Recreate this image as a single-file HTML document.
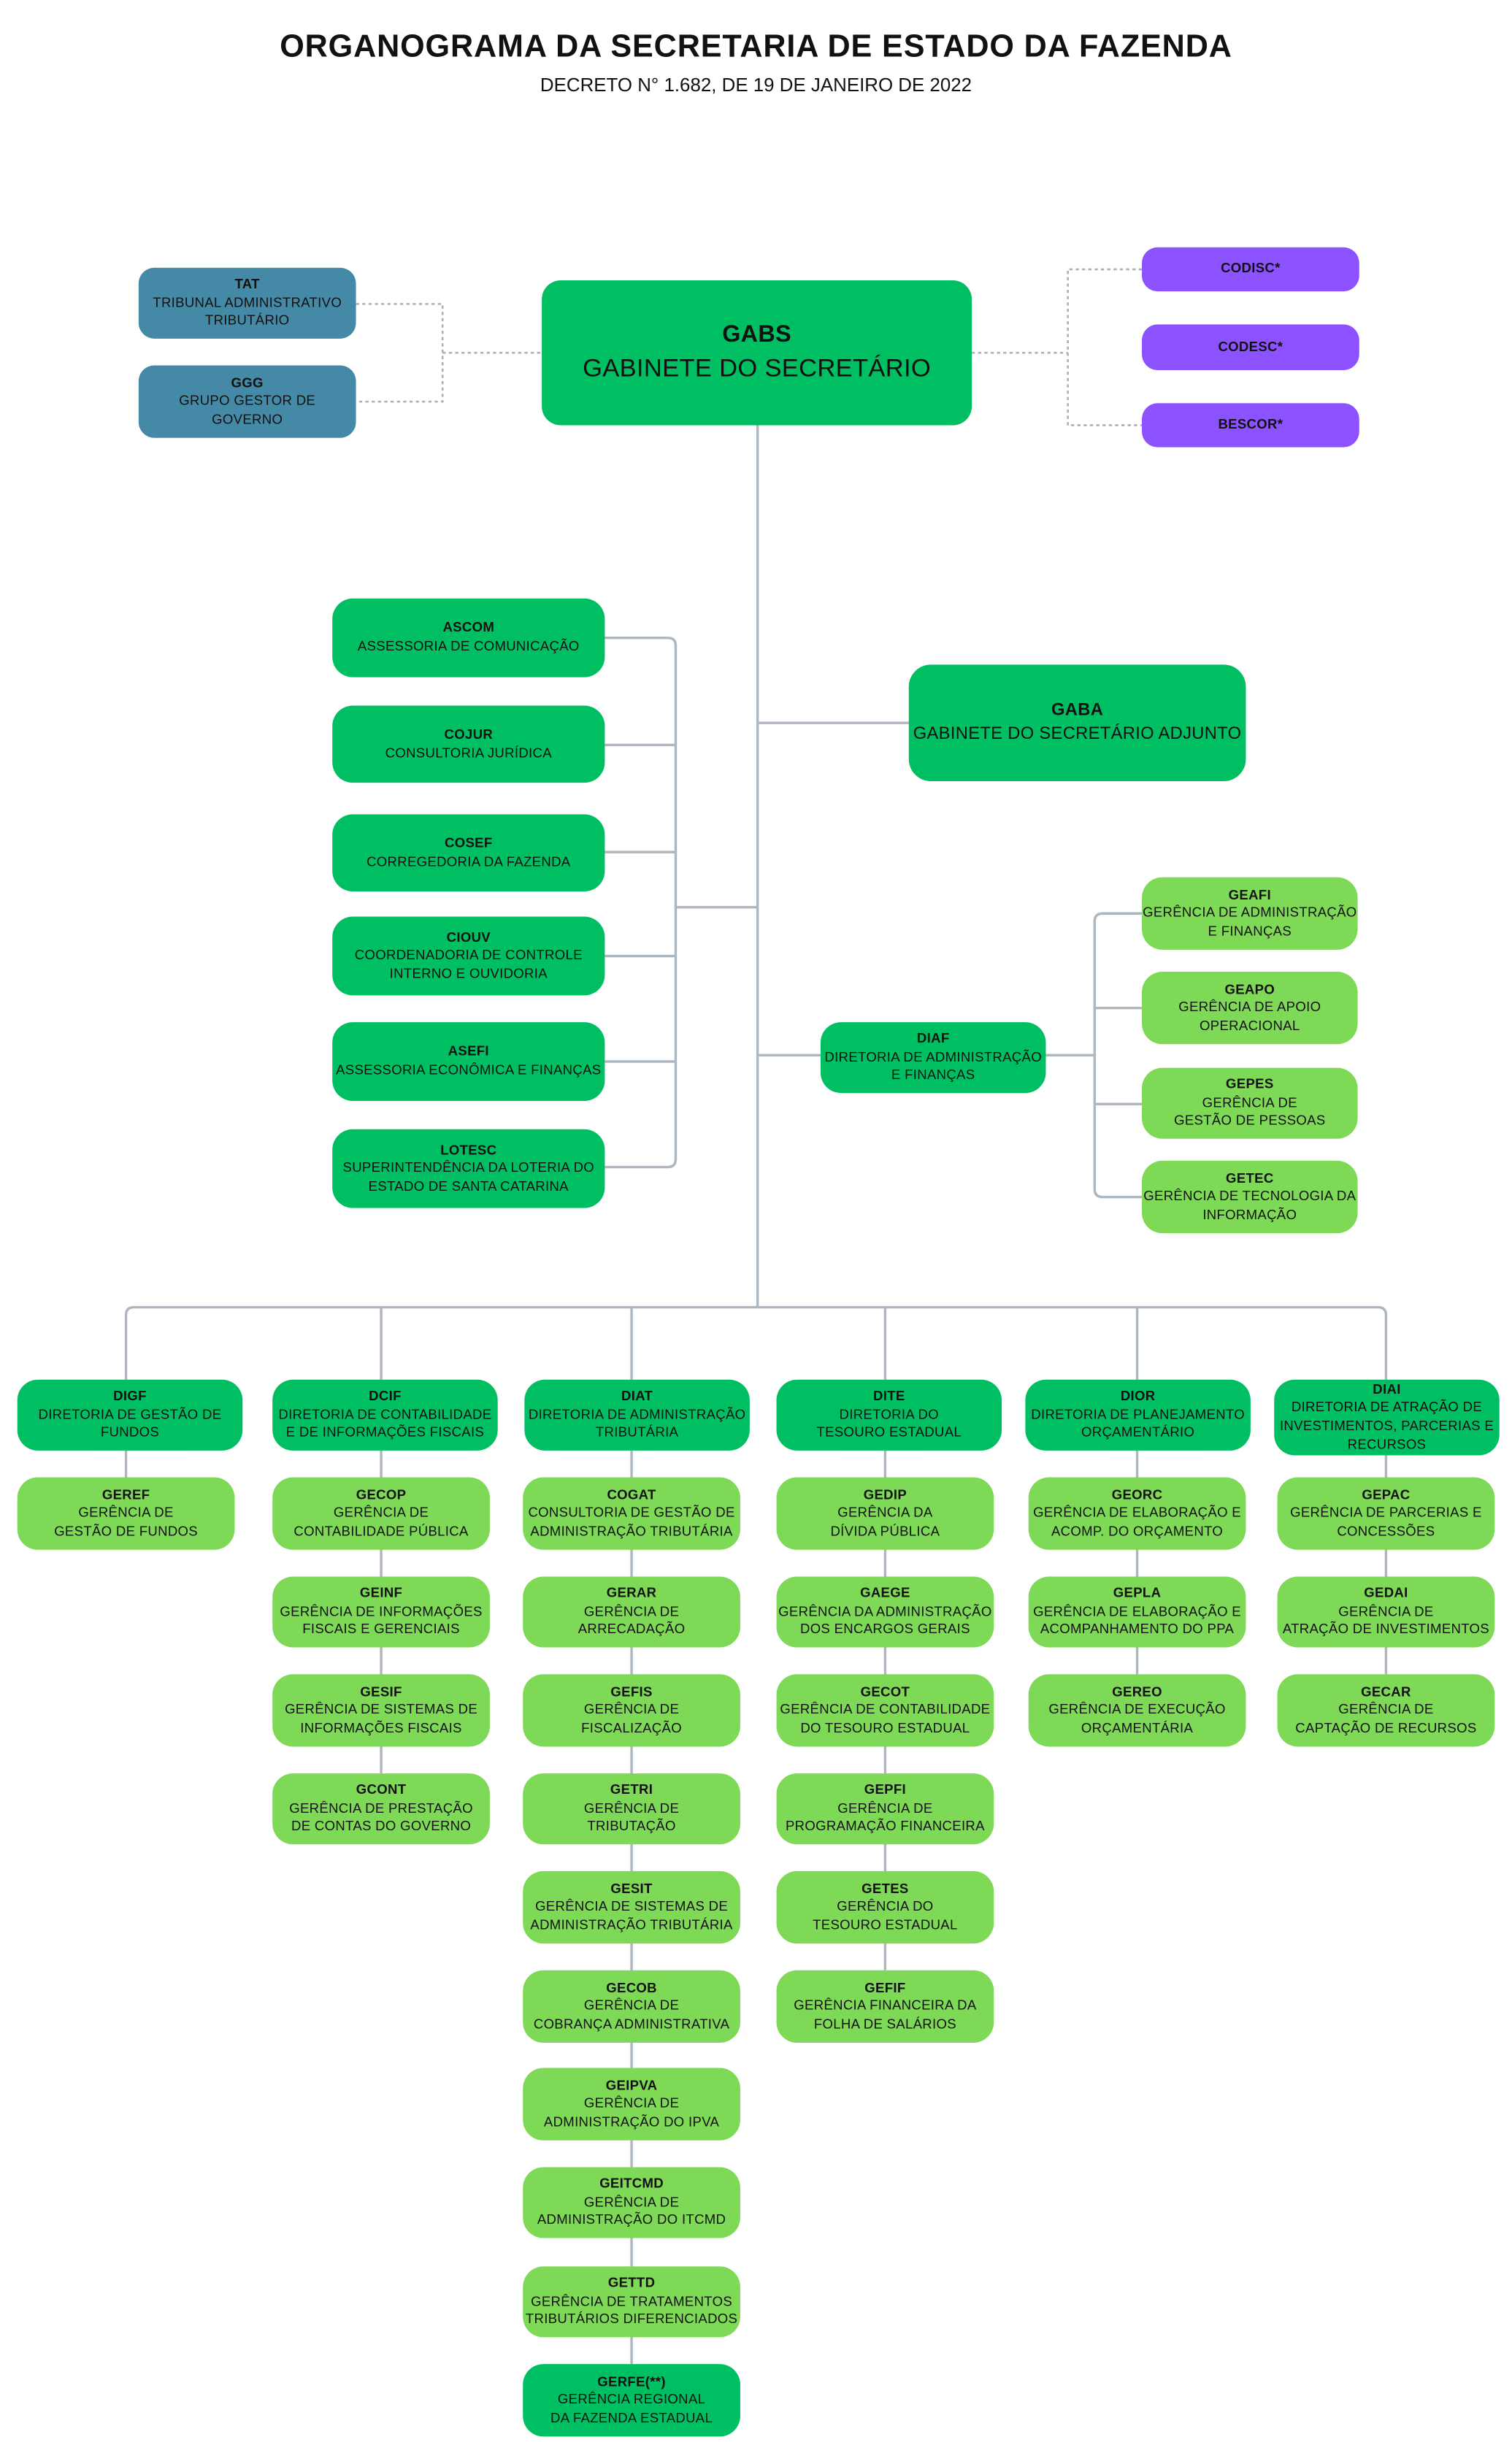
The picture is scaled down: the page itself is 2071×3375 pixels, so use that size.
<!DOCTYPE html>
<html><head><meta charset="utf-8">
<style>
html,body{margin:0;padding:0;background:#fff;}
body{width:2071px;height:3375px;overflow:hidden;position:relative;}
#s{position:absolute;left:0;top:0;width:960px;height:1564px;transform:scale(2.1573);transform-origin:0 0;font-family:"Liberation Sans",sans-serif;color:#111;}
.b{position:absolute;display:flex;flex-direction:column;justify-content:center;align-items:center;text-align:center;border-radius:13px;font-size:8.6px;line-height:11.6px;letter-spacing:0.15px;box-sizing:border-box;padding:0 1px;white-space:nowrap;}
.b b{font-size:8.6px;}
.g{background:#00BF63;}
.l{background:#7ED957;}
.t{background:#4489A6;border-radius:10px;}
.p{background:#8C52FF;border-radius:10px;}
svg{position:absolute;left:0;top:0;}
</style></head><body><div id="s">
<svg width="960" height="1564" fill="none">
<g stroke="#aeb6bf" stroke-width="1.6">
<line x1="481" y1="270" x2="481" y2="830"/>
<path d="M384 405 H424 Q429 405 429 410 V736 Q429 741 424 741 H384"/>
<line x1="384" y1="473" x2="429" y2="473"/>
<line x1="384" y1="541" x2="429" y2="541"/>
<line x1="384" y1="607" x2="429" y2="607"/>
<line x1="384" y1="674" x2="429" y2="674"/>
<line x1="429" y1="576" x2="481" y2="576"/>
<line x1="481" y1="459" x2="577" y2="459"/>
<line x1="481" y1="670" x2="521" y2="670"/>
<line x1="664" y1="670" x2="695" y2="670"/>
<path d="M725 580 H700 Q695 580 695 585 V755 Q695 760 700 760 H725"/>
<line x1="695" y1="640" x2="725" y2="640"/>
<line x1="695" y1="701" x2="725" y2="701"/>
<path d="M80 876 V835 Q80 830 85 830 H875 Q880 830 880 835 V876"/>
<line x1="242" y1="830" x2="242" y2="876"/>
<line x1="401" y1="830" x2="401" y2="876"/>
<line x1="562" y1="830" x2="562" y2="876"/>
<line x1="722" y1="830" x2="722" y2="876"/>
<line x1="80" y1="921" x2="80" y2="938"/>
<line x1="242" y1="921" x2="242" y2="1126"/>
<line x1="401" y1="921" x2="401" y2="1501"/>
<line x1="562" y1="921" x2="562" y2="1251"/>
<line x1="722" y1="921" x2="722" y2="1063"/>
<line x1="880" y1="924" x2="880" y2="1063"/>
</g>
<g stroke="#a8b0b8" stroke-width="1.2" stroke-dasharray="2 2">
<path d="M226 193 H281 V255 H226"/>
<line x1="281" y1="224" x2="344" y2="224"/>
<line x1="617" y1="224" x2="678" y2="224"/>
<path d="M725 171 H678 V270 H725"/>
</g>
</svg>

<div style="position:absolute;left:0;width:960px;top:19px;text-align:center;font-weight:bold;font-size:20px;letter-spacing:0.4px;">ORGANOGRAMA DA SECRETARIA DE ESTADO DA FAZENDA</div>
<div style="position:absolute;left:0;width:960px;top:47px;text-align:center;font-size:12px;">DECRETO N° 1.682, DE 19 DE JANEIRO DE 2022</div>

<div class="b g" style="left:344px;top:178px;width:273px;height:92px;border-radius:12px;font-size:16px;line-height:22px;"><b style="font-size:15px;">GABS</b>GABINETE DO SECRETÁRIO</div>
<div class="b t" style="left:88px;top:170px;width:138px;height:45px;"><b>TAT</b>TRIBUNAL ADMINISTRATIVO<br>TRIBUTÁRIO</div>
<div class="b t" style="left:88px;top:232px;width:138px;height:46px;"><b>GGG</b>GRUPO GESTOR DE<br>GOVERNO</div>
<div class="b p" style="left:725px;top:157px;width:138px;height:28px;"><b>CODISC*</b></div>
<div class="b p" style="left:725px;top:206px;width:138px;height:29px;"><b>CODESC*</b></div>
<div class="b p" style="left:725px;top:256px;width:138px;height:28px;"><b>BESCOR*</b></div>

<div class="b g" style="left:211px;top:380px;width:173px;height:50px;"><b>ASCOM</b>ASSESSORIA DE COMUNICAÇÃO</div>
<div class="b g" style="left:211px;top:448px;width:173px;height:49px;"><b>COJUR</b>CONSULTORIA JURÍDICA</div>
<div class="b g" style="left:211px;top:517px;width:173px;height:49px;"><b>COSEF</b>CORREGEDORIA DA FAZENDA</div>
<div class="b g" style="left:211px;top:582px;width:173px;height:50px;"><b>CIOUV</b>COORDENADORIA DE CONTROLE<br>INTERNO E OUVIDORIA</div>
<div class="b g" style="left:211px;top:649px;width:173px;height:50px;"><b>ASEFI</b>ASSESSORIA ECONÔMICA E FINANÇAS</div>
<div class="b g" style="left:211px;top:717px;width:173px;height:50px;"><b>LOTESC</b>SUPERINTENDÊNCIA DA LOTERIA DO<br>ESTADO DE SANTA CATARINA</div>

<div class="b g" style="left:577px;top:422px;width:214px;height:74px;font-size:11px;line-height:15px;border-radius:14px;"><b style="font-size:11px;">GABA</b>GABINETE DO SECRETÁRIO ADJUNTO</div>
<div class="b g" style="left:521px;top:649px;width:143px;height:45px;"><b>DIAF</b>DIRETORIA DE ADMINISTRAÇÃO<br>E FINANÇAS</div>
<div class="b l" style="left:725px;top:557px;width:137px;height:46px;"><b>GEAFI</b>GERÊNCIA DE ADMINISTRAÇÃO<br>E FINANÇAS</div>
<div class="b l" style="left:725px;top:617px;width:137px;height:46px;"><b>GEAPO</b>GERÊNCIA DE APOIO<br>OPERACIONAL</div>
<div class="b l" style="left:725px;top:678px;width:137px;height:45px;"><b>GEPES</b>GERÊNCIA DE<br>GESTÃO DE PESSOAS</div>
<div class="b l" style="left:725px;top:737px;width:137px;height:46px;"><b>GETEC</b>GERÊNCIA DE TECNOLOGIA DA<br>INFORMAÇÃO</div>

<div class="b g" style="left:11px;top:876px;width:143px;height:45px;"><b>DIGF</b>DIRETORIA DE GESTÃO DE<br>FUNDOS</div>
<div class="b g" style="left:173px;top:876px;width:143px;height:45px;"><b>DCIF</b>DIRETORIA DE CONTABILIDADE<br>E DE INFORMAÇÕES FISCAIS</div>
<div class="b g" style="left:333px;top:876px;width:143px;height:45px;"><b>DIAT</b>DIRETORIA DE ADMINISTRAÇÃO<br>TRIBUTÁRIA</div>
<div class="b g" style="left:493px;top:876px;width:143px;height:45px;"><b>DITE</b>DIRETORIA DO<br>TESOURO ESTADUAL</div>
<div class="b g" style="left:651px;top:876px;width:143px;height:45px;"><b>DIOR</b>DIRETORIA DE PLANEJAMENTO<br>ORÇAMENTÁRIO</div>
<div class="b g" style="left:809px;top:876px;width:143px;height:48px;"><b>DIAI</b>DIRETORIA DE ATRAÇÃO DE<br>INVESTIMENTOS, PARCERIAS E<br>RECURSOS</div>

<div class="b l" style="left:11px;top:938px;width:138px;height:46px;"><b>GEREF</b>GERÊNCIA DE<br>GESTÃO DE FUNDOS</div>

<div class="b l" style="left:173px;top:938px;width:138px;height:46px;"><b>GECOP</b>GERÊNCIA DE<br>CONTABILIDADE PÚBLICA</div>
<div class="b l" style="left:173px;top:1001px;width:138px;height:45px;"><b>GEINF</b>GERÊNCIA DE INFORMAÇÕES<br>FISCAIS E GERENCIAIS</div>
<div class="b l" style="left:173px;top:1063px;width:138px;height:46px;"><b>GESIF</b>GERÊNCIA DE SISTEMAS DE<br>INFORMAÇÕES FISCAIS</div>
<div class="b l" style="left:173px;top:1126px;width:138px;height:45px;"><b>GCONT</b>GERÊNCIA DE PRESTAÇÃO<br>DE CONTAS DO GOVERNO</div>

<div class="b l" style="left:332px;top:938px;width:138px;height:46px;"><b>COGAT</b>CONSULTORIA DE GESTÃO DE<br>ADMINISTRAÇÃO TRIBUTÁRIA</div>
<div class="b l" style="left:332px;top:1001px;width:138px;height:45px;"><b>GERAR</b>GERÊNCIA DE<br>ARRECADAÇÃO</div>
<div class="b l" style="left:332px;top:1063px;width:138px;height:46px;"><b>GEFIS</b>GERÊNCIA DE<br>FISCALIZAÇÃO</div>
<div class="b l" style="left:332px;top:1126px;width:138px;height:45px;"><b>GETRI</b>GERÊNCIA DE<br>TRIBUTAÇÃO</div>
<div class="b l" style="left:332px;top:1188px;width:138px;height:46px;"><b>GESIT</b>GERÊNCIA DE SISTEMAS DE<br>ADMINISTRAÇÃO TRIBUTÁRIA</div>
<div class="b l" style="left:332px;top:1251px;width:138px;height:46px;"><b>GECOB</b>GERÊNCIA DE<br>COBRANÇA ADMINISTRATIVA</div>
<div class="b l" style="left:332px;top:1313px;width:138px;height:46px;"><b>GEIPVA</b>GERÊNCIA DE<br>ADMINISTRAÇÃO DO IPVA</div>
<div class="b l" style="left:332px;top:1376px;width:138px;height:45px;"><b>GEITCMD</b>GERÊNCIA DE<br>ADMINISTRAÇÃO DO ITCMD</div>
<div class="b l" style="left:332px;top:1439px;width:138px;height:45px;"><b>GETTD</b>GERÊNCIA DE TRATAMENTOS<br>TRIBUTÁRIOS DIFERENCIADOS</div>
<div class="b g" style="left:332px;top:1501px;width:138px;height:46px;"><b>GERFE(**)</b>GERÊNCIA REGIONAL<br>DA FAZENDA ESTADUAL</div>

<div class="b l" style="left:493px;top:938px;width:138px;height:46px;"><b>GEDIP</b>GERÊNCIA DA<br>DÍVIDA PÚBLICA</div>
<div class="b l" style="left:493px;top:1001px;width:138px;height:45px;"><b>GAEGE</b>GERÊNCIA DA ADMINISTRAÇÃO<br>DOS ENCARGOS GERAIS</div>
<div class="b l" style="left:493px;top:1063px;width:138px;height:46px;"><b>GECOT</b>GERÊNCIA DE CONTABILIDADE<br>DO TESOURO ESTADUAL</div>
<div class="b l" style="left:493px;top:1126px;width:138px;height:45px;"><b>GEPFI</b>GERÊNCIA DE<br>PROGRAMAÇÃO FINANCEIRA</div>
<div class="b l" style="left:493px;top:1188px;width:138px;height:46px;"><b>GETES</b>GERÊNCIA DO<br>TESOURO ESTADUAL</div>
<div class="b l" style="left:493px;top:1251px;width:138px;height:46px;"><b>GEFIF</b>GERÊNCIA FINANCEIRA DA<br>FOLHA DE SALÁRIOS</div>

<div class="b l" style="left:653px;top:938px;width:138px;height:46px;"><b>GEORC</b>GERÊNCIA DE ELABORAÇÃO E<br>ACOMP. DO ORÇAMENTO</div>
<div class="b l" style="left:653px;top:1001px;width:138px;height:45px;"><b>GEPLA</b>GERÊNCIA DE ELABORAÇÃO E<br>ACOMPANHAMENTO DO PPA</div>
<div class="b l" style="left:653px;top:1063px;width:138px;height:46px;"><b>GEREO</b>GERÊNCIA DE EXECUÇÃO<br>ORÇAMENTÁRIA</div>

<div class="b l" style="left:811px;top:938px;width:138px;height:46px;"><b>GEPAC</b>GERÊNCIA DE PARCERIAS E<br>CONCESSÕES</div>
<div class="b l" style="left:811px;top:1001px;width:138px;height:45px;"><b>GEDAI</b>GERÊNCIA DE<br>ATRAÇÃO DE INVESTIMENTOS</div>
<div class="b l" style="left:811px;top:1063px;width:138px;height:46px;"><b>GECAR</b>GERÊNCIA DE<br>CAPTAÇÃO DE RECURSOS</div>
</div></body></html>
